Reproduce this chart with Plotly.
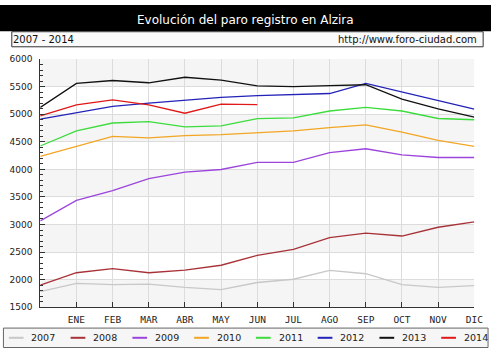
import plotly.graph_objects as go

W, H = 500, 353

months = ["", "ENE", "FEB", "MAR", "ABR", "MAY", "JUN", "JUL", "AGO", "SEP", "OCT", "NOV", "DIC"]
years = ["2007", "2008", "2009", "2010", "2011", "2012", "2013", "2014"]
colors = ["#c8c8c8", "#a83238", "#9b45dd", "#f2a624", "#3ddc3d", "#2323b8", "#111111", "#e01818"]

v2007 = [1784, 1931, 1908, 1918, 1860, 1819, 1948, 2007, 2166, 2107, 1908, 1860, 1890]
v2008 = [1900, 2125, 2201, 2125, 2172, 2261, 2438, 2549, 2761, 2844, 2791, 2950, 3049]
v2009 = [3067, 3438, 3615, 3833, 3950, 3998, 4127, 4127, 4304, 4374, 4263, 4215, 4215]
v2010 = [4235, 4424, 4600, 4571, 4612, 4629, 4670, 4700, 4758, 4806, 4675, 4528, 4417]
v2011 = [4424, 4700, 4841, 4865, 4771, 4788, 4920, 4935, 5059, 5123, 5059, 4923, 4900]
v2012 = [4912, 5024, 5141, 5200, 5259, 5306, 5336, 5353, 5376, 5558, 5406, 5247, 5094]
v2013 = [5125, 5559, 5612, 5571, 5671, 5618, 5515, 5500, 5518, 5535, 5276, 5099, 4947]
v2014 = [4970, 5171, 5259, 5171, 5018, 5182, 5176]

series = [v2007, v2008, v2009, v2010, v2011, v2012, v2013, v2014]

ymin, ymax = 1500, 6000

# plot box in pixels
L, R, T, B = 41, 483, 55.7, 311

def px(x):
    return x / W

def py(y):
    return 1 - y / H

fig = go.Figure()

for name, vals, c in zip(years, series, colors):
    fig.add_trace(go.Scatter(
        x=list(range(len(vals))), y=vals, mode="lines", name=name,
        line=dict(color=c, width=1.3), showlegend=False, hoverinfo="skip"))

shapes = []
# alternating subtle background bands
for i, lo in enumerate(range(ymin, ymax, 500)):
    if i % 2 == 0:
        shapes.append(dict(type="rect", xref="x", yref="y", x0=0, x1=12, y0=lo, y1=lo + 500,
                           fillcolor="#f5f5f5", line=dict(width=0), layer="below"))

# title bar
shapes.append(dict(type="rect", xref="paper", yref="paper", x0=0, x1=1, y0=py(27), y1=1,
                   fillcolor="#000000", line=dict(width=0)))
# subheader box
shapes.append(dict(type="rect", xref="paper", yref="paper", x0=px(12), x1=px(492), y0=py(43), y1=py(27.5),
                   fillcolor="#fafafa", line=dict(color="#333333", width=1)))
# legend box
shapes.append(dict(type="rect", xref="paper", yref="paper", x0=px(3.5), x1=px(497), y0=py(352.5), y1=py(332.5),
                   fillcolor="#f6f6f6", line=dict(color="#666666", width=1)))

annotations = [
    dict(text="Evolución del paro registro en Alzira", x=0.5, y=py(15.5), xref="paper", yref="paper",
         showarrow=False, xanchor="center", yanchor="middle",
         font=dict(family="DejaVu Sans", size=12, color="#ffffff")),
    dict(text="2007 - 2014", x=px(11), y=py(35.5), xref="paper", yref="paper",
         showarrow=False, xanchor="left", yanchor="middle",
         font=dict(family="DejaVu Sans", size=10, color="#111111")),
    dict(text="http://www.foro-ciudad.com", x=px(342), y=py(35.5), xref="paper", yref="paper",
         showarrow=False, xanchor="left", yanchor="middle",
         font=dict(family="DejaVu Sans", size=10, color="#111111")),
]

# legend drawn manually
step = 62.9
for i, (name, c) in enumerate(zip(years, colors)):
    x0 = 9 + step * i
    shapes.append(dict(type="line", xref="paper", yref="paper", x0=px(x0), x1=px(x0 + 15),
                       y0=py(342.5), y1=py(342.5), line=dict(color=c, width=2)))
    annotations.append(dict(text=name, x=px(30 + step * i), y=py(342.5), xref="paper", yref="paper",
                            showarrow=False, xanchor="left", yanchor="middle",
                            font=dict(family="DejaVu Sans", size=9.5, color="#222222")))

fig.update_layout(
    width=W, height=H,
    margin=dict(l=0, r=0, t=0, b=0),
    paper_bgcolor="#ffffff", plot_bgcolor="#ffffff",
    shapes=shapes, annotations=annotations,
    showlegend=False,
    xaxis=dict(domain=[px(L), px(R)], range=[0, 12], tickmode="array",
               tickvals=list(range(1, 13)), ticktext=months[1:],
               showgrid=True, gridcolor="#dcdcdc", gridwidth=1,
               showline=True, linecolor="#333333", linewidth=1,
               ticks="inside", ticklen=5, tickcolor="#333333",
               tickfont=dict(family="DejaVu Sans Mono", size=9.5, color="#222222"),
               ticklabelstandoff=3, zeroline=False, fixedrange=True),
    yaxis=dict(domain=[py(B), py(T)], range=[ymin, ymax], tickmode="linear", tick0=1500, dtick=500,
               showgrid=True, gridcolor="#dcdcdc", gridwidth=1,
               showline=True, linecolor="#333333", linewidth=1,
               ticks="inside", ticklen=5, tickcolor="#333333",
               minor=dict(dtick=100, ticks="inside", ticklen=3, tickcolor="#333333", showgrid=False),
               tickfont=dict(family="DejaVu Sans", size=9, color="#222222"),
               ticklabelstandoff=5, zeroline=False, fixedrange=True),
)

fig.write_html("out.html")
